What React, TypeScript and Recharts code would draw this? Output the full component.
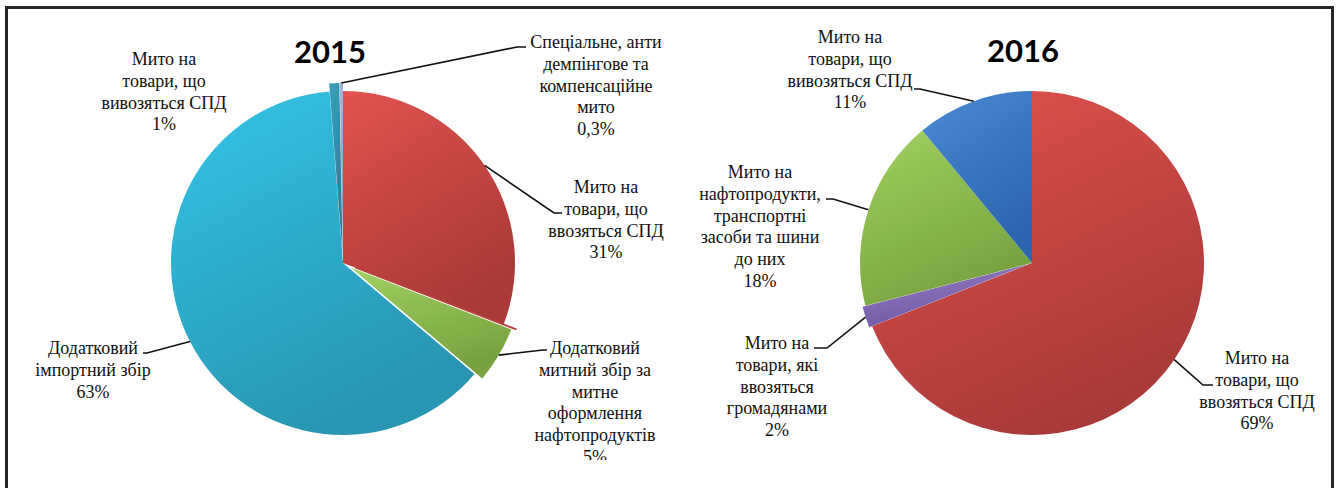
import { PieChart, Pie, Cell } from "recharts";

// 2015
const names2015 = [
  "Мито на товари, що ввозяться СПД",
  "Мито на товари, які ввозяться громадянами",
  "Додатковий митний збір за митне оформлення нафтопродуктів",
  "Додатковий імпортний збір",
  "Мито на товари, що вивозяться СПД",
  "Спеціальне, антидемпінгове та компенсаційне мито",
];
const values2015 = [30.8, 0.05, 5.3, 62.6, 0.95, 0.3];
const lines2015 = [
  ["Мито на", "товари, що", "ввозяться СПД"],
  [],
  ["Додатковий", "митний збір за", "митне", "оформлення", "нафтопродуктів"],
  ["Додатковий", "імпортний збір"],
  ["Мито на", "товари, що", "вивозяться СПД"],
  ["Спеціальне, анти", "демпінгове та", "компенсаційне", "мито"],
];

// 2016
const names2016 = [
  "Мито на товари, що ввозяться СПД",
  "Мито на товари, які ввозяться громадянами",
  "Мито на нафтопродукти, транспортні засоби та шини до них",
  "Мито на товари, що вивозяться СПД",
];
const values2016 = [69, 2, 18, 11];
const lines2016 = [
  ["Мито на", "товари, що", "ввозяться СПД"],
  ["Мито на", "товари, які", "ввозяться", "громадянами"],
  ["Мито на", "нафтопродукти,", "транспортні", "засоби та шини", "до них"],
  ["Мито на", "товари, що", "вивозяться СПД"],
];

const data2015 = names2015.map((name, i) => ({ name, value: values2015[i] }));
const data2016 = names2016.map((name, i) => ({ name, value: values2016[i] }));

// styling
const grads2015 = ["red", "hair", "green", "cyan", "teal", "lav"];
const grads2016 = ["red", "purple", "green", "blue"];
const explode2015 = [0, 13, 9, 0, 8, 8];
const explode2016 = [0, 3, 0, 0];

// label layout, offsets from the pie centre: leader elbow, leader end, text centre / first line
type Lay = { elbow?: number[]; end?: number[]; tx: number; ty: number } | null;
const layout2015: Lay[] = [
  { elbow: [211, -50], end: [219, -50], tx: 263, ty: -76 },
  null,
  { elbow: [200, 87], end: [204, 87], tx: 252, ty: 85 },
  { elbow: [-196, 90], end: [-200, 90], tx: -250, ty: 85 },
  { tx: -179, ty: -204 },
  { elbow: [174, -216], end: [183, -216], tx: 253, ty: -221 },
];
const layout2016: Lay[] = [
  { elbow: [171, 122], end: [181, 122], tx: 225, ty: 95 },
  { elbow: [-205, 85], end: [-218, 85], tx: -255, ty: 80 },
  { elbow: [-199, -64], end: [-206, -64], tx: -272, ty: -91 },
  { elbow: [-112, -174], end: [-118, -174], tx: -182, ty: -226 },
];

const RAD = Math.PI / 180;
const LINE_H = 21.8;
const R = 172;
const SERIF = '"Liberation Serif", "Times New Roman", "DejaVu Serif", serif';

const pctText = (p: number) => {
  const v = p * 100;
  return v < 0.5 ? `${v.toFixed(1).replace(".", ",")}%` : `${Math.round(v)}%`;
};

// mid angle of each slice (recharts convention, start at 12 o'clock going clockwise)
const midAngles = (values: number[]) => {
  const total = values.reduce((a, b) => a + b, 0);
  let acc = 0;
  return values.map((v) => {
    const mid = 90 - (360 * (acc + v / 2)) / total;
    acc += v;
    return mid;
  });
};

const shift = (angle: number, d: number) =>
  `translate(${(d * Math.cos(-angle * RAD)).toFixed(2)},${(d * Math.sin(-angle * RAD)).toFixed(2)})`;

const makeLabel = (lines: string[][], layout: Lay[], explode: number[]) => (p: any) => {
  const lay = layout[p.index];
  if (!lay) return null;
  const r = p.outerRadius + explode[p.index];
  const ax = p.cx + r * Math.cos(-p.midAngle * RAD);
  const ay = p.cy + r * Math.sin(-p.midAngle * RAD);
  const text = [...lines[p.index], pctText(p.percent)];
  const x = p.cx + lay.tx;
  return (
    <g>
      {lay.elbow && lay.end && (
        <polyline
          points={`${ax},${ay} ${p.cx + lay.elbow[0]},${p.cy + lay.elbow[1]} ${p.cx + lay.end[0]},${p.cy + lay.end[1]}`}
          fill="none"
          stroke="#111"
          strokeWidth={1.6}
        />
      )}
      <text
        x={x}
        y={p.cy + lay.ty}
        textAnchor="middle"
        dominantBaseline="central"
        style={{ fontFamily: SERIF, fontSize: 18 }}
        fill="#111"
      >
        {text.map((t, i) => (
          <tspan key={i} x={x} dy={i === 0 ? 0 : LINE_H}>
            {t}
          </tspan>
        ))}
      </text>
    </g>
  );
};

const gradDefs: Record<string, [string, string]> = {
  red: ["#E2524E", "#A93A38"],
  hair: ["#C0504D", "#A0403D"],
  green: ["#A2D162", "#78A23F"],
  cyan: ["#33C4E8", "#2896B2"],
  teal: ["#3AA2BC", "#2A7F96"],
  lav: ["#A9BCE4", "#8497C8"],
  purple: ["#9A80C8", "#6E56A0"],
  blue: ["#4A8AD4", "#2C66AE"],
};

export default function App() {
  const mid15 = midAngles(values2015);
  const mid16 = midAngles(values2016);
  return (
    <div
      style={{
        position: "fixed",
        left: 0,
        top: 0,
        width: 1338,
        height: 488,
        background: "#fff",
        overflow: "hidden",
      }}
    >
      <div
        style={{
          position: "absolute",
          left: 5,
          top: 6,
          width: 1323,
          height: 600,
          border: "3px solid #262626",
        }}
      />
      <div style={{ position: "absolute", left: 0, top: 0, width: 1338, height: 460, overflow: "hidden" }}>
        <PieChart width={1338} height={460} margin={{ top: 0, right: 0, bottom: 0, left: 0 }}>
          <defs>
            {Object.entries(gradDefs).map(([k, [a, b]]) => (
              <linearGradient key={k} id={`g-${k}`} x1="0" y1="0" x2="0.45" y2="1">
                <stop offset="0%" stopColor={a} />
                <stop offset="100%" stopColor={b} />
              </linearGradient>
            ))}
          </defs>
          <text
            x={330}
            y={63}
            textAnchor="middle"
            style={{ fontFamily: "Lato, 'Open Sans', sans-serif", fontWeight: 700, fontSize: 31 }}
            fill="#000"
          >
            2015
          </text>
          <text
            x={1023}
            y={62}
            textAnchor="middle"
            style={{ fontFamily: "Lato, 'Open Sans', sans-serif", fontWeight: 700, fontSize: 31 }}
            fill="#000"
          >
            2016
          </text>
          <Pie
            data={data2015}
            dataKey="value"
            nameKey="name"
            cx={343}
            cy={263}
            outerRadius={R}
            startAngle={90}
            endAngle={-270}
            stroke="none"
            labelLine={false}
            label={makeLabel(lines2015, layout2015, explode2015)}
            isAnimationActive={false}
          >
            {data2015.map((d, i) => (
              <Cell
                key={d.name + i}
                fill={`url(#g-${grads2015[i]})`}
                stroke={grads2015[i] === "hair" ? "#B8413E" : "none"}
                strokeWidth={grads2015[i] === "hair" ? 1.3 : 0}
                transform={shift(mid15[i], explode2015[i])}
              />
            ))}
          </Pie>
          <Pie
            data={data2016}
            dataKey="value"
            nameKey="name"
            cx={1032}
            cy={263}
            outerRadius={R}
            startAngle={90}
            endAngle={-270}
            stroke="none"
            labelLine={false}
            label={makeLabel(lines2016, layout2016, explode2016)}
            isAnimationActive={false}
          >
            {data2016.map((d, i) => (
              <Cell
                key={d.name + i}
                fill={`url(#g-${grads2016[i]})`}
                stroke="none"
                transform={shift(mid16[i], explode2016[i])}
              />
            ))}
          </Pie>
        </PieChart>
      </div>
    </div>
  );
}
